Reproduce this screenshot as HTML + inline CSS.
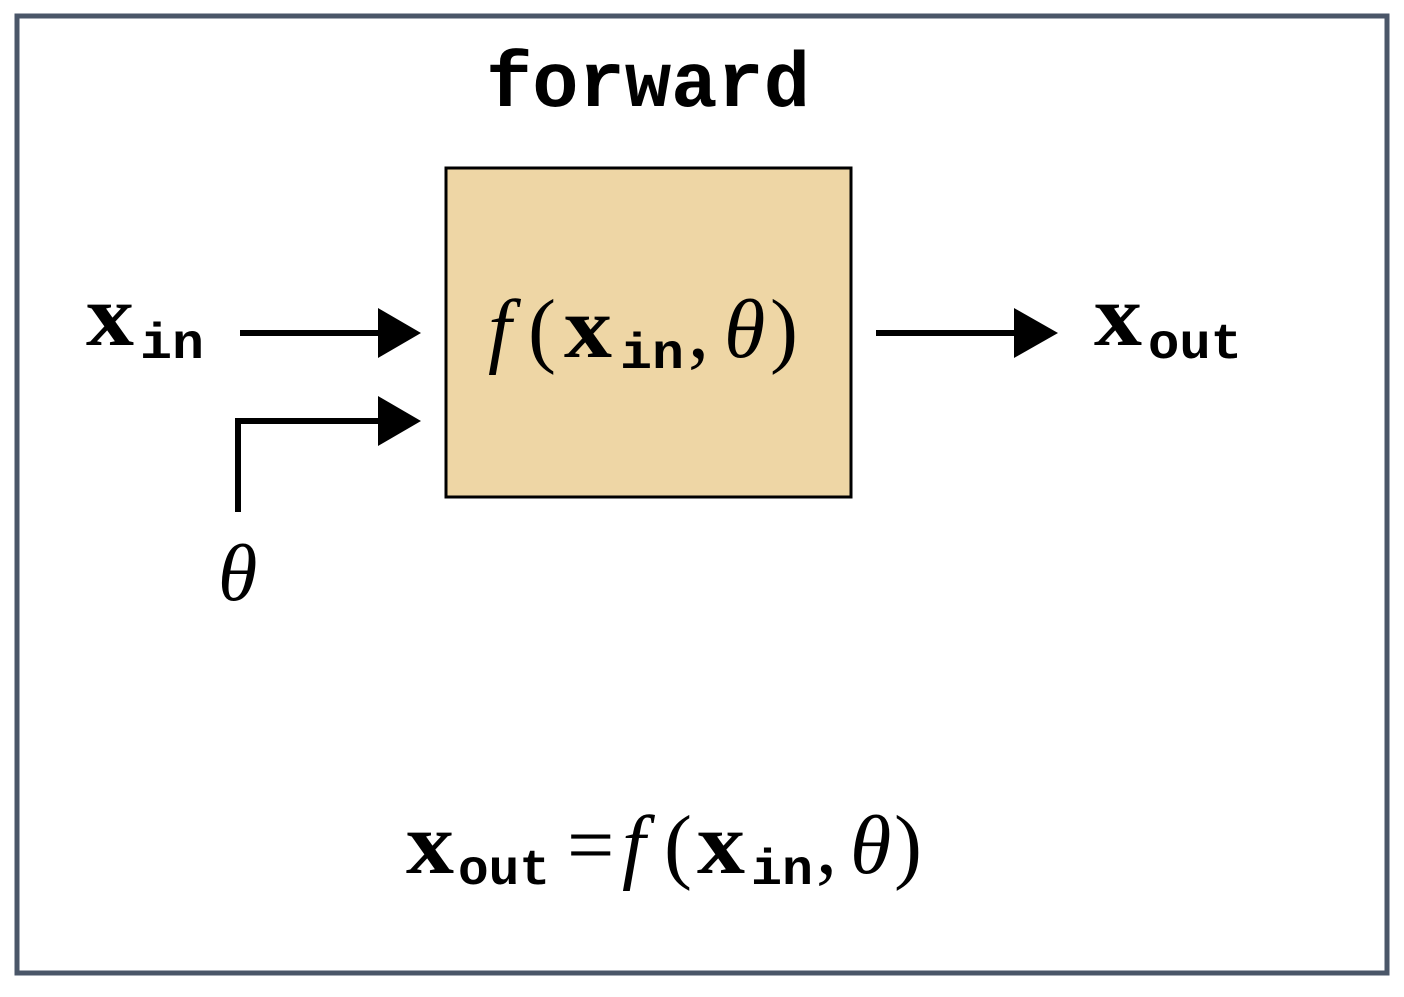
<!DOCTYPE html>
<html><head><style>html,body{margin:0;padding:0;background:#fff}</style></head>
<body>
<svg width="1404" height="992" viewBox="0 0 1404 992" xmlns="http://www.w3.org/2000/svg">
<rect x="17" y="16" width="1370" height="957" fill="#fff" stroke="#4a5668" stroke-width="5"/>
<text x="648" y="106" font-family="Liberation Mono, monospace" font-weight="bold" font-size="78" text-anchor="middle" fill="#000" textLength="324" lengthAdjust="spacingAndGlyphs">forward</text>
<rect x="446" y="168" width="405" height="329" fill="#eed6a5" stroke="#000" stroke-width="3"/>
<g fill="#000">
<line x1="240" y1="333" x2="385" y2="333" stroke="#000" stroke-width="6"/>
<polygon points="378,308 421,333 378,358"/>
<polyline points="238,512 238,421 385,421" fill="none" stroke="#000" stroke-width="6"/>
<polygon points="378,396 421,421 378,446"/>
<line x1="876" y1="333" x2="1020" y2="333" stroke="#000" stroke-width="6"/>
<polygon points="1014,308 1058,333 1014,358"/>
</g>
<g font-family="Liberation Serif, serif" fill="#000">
<text x="86" y="345" font-size="88" font-weight="bold" textLength="48" lengthAdjust="spacingAndGlyphs">x</text>
<text x="140" y="358" font-size="50" font-family="Liberation Mono, monospace" font-weight="bold" textLength="64" lengthAdjust="spacingAndGlyphs">in</text>
<text x="1094" y="345" font-size="88" font-weight="bold" textLength="48" lengthAdjust="spacingAndGlyphs">x</text>
<text x="1148" y="358" font-size="50" font-family="Liberation Mono, monospace" font-weight="bold" textLength="94" lengthAdjust="spacingAndGlyphs">out</text>
<text x="218" y="600" font-size="80" font-style="italic">θ</text>

<text x="488" y="357" font-size="84" font-style="italic">f</text>
<text x="528" y="357" font-size="84">(</text>
<text x="564" y="357" font-size="88" font-weight="bold" textLength="48" lengthAdjust="spacingAndGlyphs">x</text>
<text x="620" y="368" font-size="50" font-family="Liberation Mono, monospace" font-weight="bold" textLength="64" lengthAdjust="spacingAndGlyphs">in</text>
<text x="688" y="357" font-size="84">,</text>
<text x="724" y="357" font-size="84" font-style="italic">θ</text>
<text x="770" y="357" font-size="84">)</text>

<text x="406" y="873" font-size="88" font-weight="bold" textLength="48" lengthAdjust="spacingAndGlyphs">x</text>
<text x="458" y="884" font-size="50" font-family="Liberation Mono, monospace" font-weight="bold" textLength="92" lengthAdjust="spacingAndGlyphs">out</text>
<text x="567" y="873" font-size="84">=</text>
<text x="622" y="873" font-size="84" font-style="italic">f</text>
<text x="664" y="873" font-size="84">(</text>
<text x="697" y="873" font-size="88" font-weight="bold" textLength="48" lengthAdjust="spacingAndGlyphs">x</text>
<text x="751" y="884" font-size="50" font-family="Liberation Mono, monospace" font-weight="bold" textLength="62" lengthAdjust="spacingAndGlyphs">in</text>
<text x="816" y="873" font-size="84">,</text>
<text x="850" y="873" font-size="84" font-style="italic">θ</text>
<text x="894" y="873" font-size="84">)</text>
</g>
</svg>
</body></html>
